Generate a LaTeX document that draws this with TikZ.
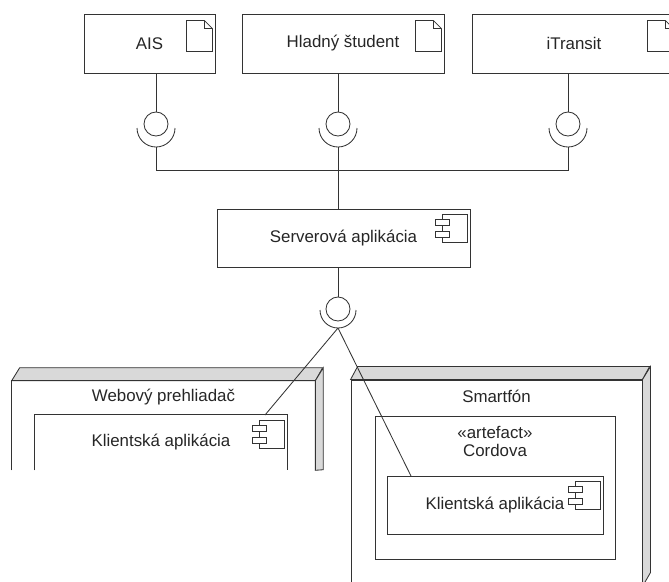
\documentclass[tikz,border=0pt]{standalone}
\usepackage{fontspec}
\setmainfont{Liberation Sans}
\usetikzlibrary{positioning}

\tikzset{
  wire/.style={draw=black!80, line width=0.6pt},
  box/.style={wire, rectangle, inner sep=0pt, text=black!85, font=\fontsize{12}{13}\selectfont},
  open/.style={rectangle, inner sep=0pt, text=black!85, font=\fontsize{12}{13}\selectfont},
  txt/.style={inner sep=0pt, text=black!85, align=center, font=\fontsize{12}{13}\selectfont},
  ball/.style={wire, circle, minimum size=0.6cm, inner sep=0pt},
  roof/.style={wire, fill=black!15},
  doc/.pic={
    \draw[wire] (-29,7) -- (-11,7) -- (-3,15) -- (-3,38) -- (-29,38) -- cycle;
    \draw[wire] (-11,7) -- (-11,15) -- (-3,15);
  },
  comp/.pic={
    \draw[wire] (-28,6) rectangle (-3,34);
    \draw[wire, fill=white] (-35,11) rectangle (-21,17);
    \draw[wire, fill=white] (-35,23) rectangle (-21,29);
  },
}

\begin{document}
\begin{tikzpicture}[x=0.025cm, y=-0.025cm]
\useasboundingbox (0,0) rectangle (669,581);
\clip (0,0) rectangle (669,581);

% external systems
\node[box, minimum width=3.275cm, minimum height=1.475cm] (ais) at (149.5,43.5) {AIS};
\node[box, minimum width=5.05cm, minimum height=1.475cm] (student) at (343,43.5) {Hladný študent};
\node[box, minimum width=5.1cm, minimum height=1.475cm] (transit) at (574,43.5) {iTransit};
\pic at (ais.north east) {doc};
\pic at (student.north east) {doc};
\pic at (transit.north east) {doc};

% interfaces
\node[ball] (ballA) at (156,124) {};
\node[ball] (ballB) at (338,124) {};
\node[ball] (ballC) at (568,124) {};
\coordinate (sockA) at (156,147);
\coordinate (sockB) at (338,147);
\coordinate (sockC) at (568,147);
\draw[wire] (137,128) arc[start angle=180, end angle=0, radius=19];
\draw[wire] (319,128) arc[start angle=180, end angle=0, radius=19];
\draw[wire] (549,128) arc[start angle=180, end angle=0, radius=19];
\coordinate (bus) at (338,170);

% server
\node[box, minimum width=6.325cm, minimum height=1.45cm] (server) at (343.5,238) {Serverová aplikácia};
\pic at (server.north east) {comp};
\node[ball] (ballS) at (338,309) {};
\coordinate (sockS) at (338,328);
\draw[wire] (320,310) arc[start angle=180, end angle=0, radius=18];

\draw[wire] (ais.south -| ballA) -- (ballA.north);
\draw[wire] (student.south -| ballB) -- (ballB.north);
\draw[wire] (transit.south -| ballC) -- (ballC.north);
\draw[wire] (sockA) -- (sockA |- bus) -- (sockC |- bus) -- (sockC);
\draw[wire] (sockB) -- (server.north -| sockB);
\draw[wire] (server.south -| ballS) -- (ballS.north);

% web browser node
\node[open, minimum width=7.575cm, minimum height=2.225cm] (web) at (163.5,425.5) {};
\draw[roof] (web.north west) -- ++(8,-13) -- ++(303,0) -- (web.north east) -- cycle;
\draw[roof] (web.north east) -- ++(8,-13) -- ++(0,102) -- (web.south east) -- cycle;
\draw[wire] (web.south west) -- (web.north west) -- (web.north east) -- (web.south east);
\node[txt, below=2mm of web.north] (webT) {Webový prehliadač};
\node[open, minimum width=6.3cm, minimum height=1.375cm] (webcl) at (161,442.5) {Klientská aplikácia};
\draw[wire] (webcl.south west) -- (webcl.north west) -- (webcl.north east) -- (webcl.south east);
\pic at (webcl.north east) {comp};

% smartphone node
\node[box, minimum width=7.275cm, minimum height=5.15cm] (phone) at (496.5,483) {};
\draw[roof] (phone.north west) -- ++(7,-13) -- ++(292,0) -- (phone.north east) -- cycle;
\draw[roof] (phone.north east) -- ++(8,-13) -- ++(0,206) -- (phone.south east) -- cycle;
\node[txt, below=2.6mm of phone.north] (phoneT) {Smartfón};
\node[box, minimum width=6cm, minimum height=3.575cm] (cordova) at (495,487.5) {};
\node[txt, below=2.5mm of cordova.north] (cordovaT) {«artefact»\\Cordova};
\node[box, minimum width=5.4cm, minimum height=1.45cm] (phonecl) at (495,505) {Klientská aplikácia};
\pic at (phonecl.north east) {comp};

% usage
\coordinate (webIn) at (265,415);
\coordinate (phoneIn) at (411,476);
\draw[wire] (sockS) -- (webIn);
\draw[wire] (sockS) -- (phoneIn);

\end{tikzpicture}
\end{document}
